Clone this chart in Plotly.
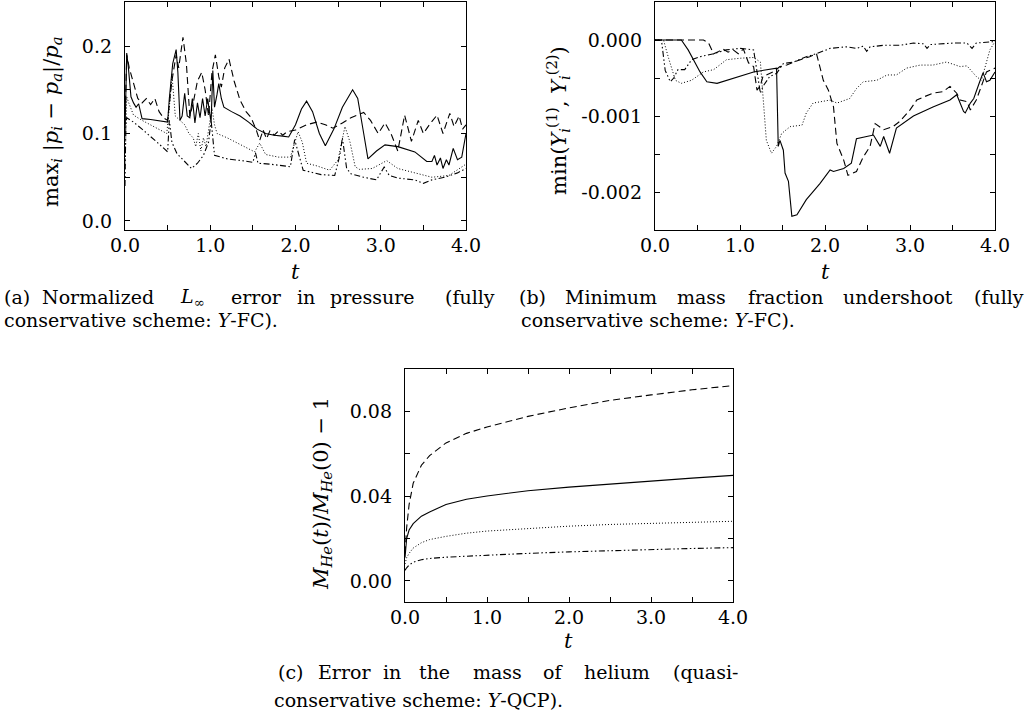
import plotly.graph_objects as go

W, H = 1027, 717

# ---------------- data (a): normalized L_inf pressure error ----------------
a_solid_t = [0.0, 0.01, 0.02, 0.04, 0.07, 0.10, 0.13, 0.16, 0.20, 0.30, 0.40, 0.50, 0.52, 0.56, 0.60, 0.62, 0.645, 0.67, 0.70, 0.73, 0.76, 0.79, 0.82, 0.85, 0.88, 0.91, 0.94, 0.97, 0.99, 1.01, 1.03, 1.05, 1.08, 1.10, 1.13, 1.16, 1.25, 1.35, 1.45, 1.55, 1.65, 1.75, 1.85, 1.92, 2.0, 2.07, 2.13, 2.2, 2.28, 2.35, 2.45, 2.55, 2.67, 2.73, 2.8, 2.85, 2.95, 3.05, 3.2, 3.4, 3.54, 3.6, 3.63, 3.66, 3.7, 3.73, 3.77, 3.8, 3.85, 3.9, 3.95, 4.0]
a_solid_v = [0.10, 0.18, 0.192, 0.175, 0.142, 0.135, 0.13, 0.134, 0.117, 0.116, 0.1145, 0.113, 0.14, 0.18, 0.196, 0.17, 0.115, 0.12, 0.146, 0.12, 0.118, 0.14, 0.112, 0.135, 0.118, 0.14, 0.12, 0.14, 0.125, 0.113, 0.172, 0.13, 0.145, 0.157, 0.14, 0.13, 0.125, 0.12, 0.113, 0.105, 0.1, 0.098, 0.097, 0.096, 0.11, 0.128, 0.137, 0.125, 0.1, 0.086, 0.105, 0.13, 0.15, 0.14, 0.1, 0.071, 0.08, 0.087, 0.085, 0.079, 0.068, 0.068, 0.075, 0.064, 0.072, 0.06, 0.07, 0.064, 0.083, 0.07, 0.073, 0.1]

a_dash_t = [0.0, 0.01, 0.02, 0.05, 0.1, 0.15, 0.2, 0.25, 0.3, 0.35, 0.4, 0.45, 0.5, 0.55, 0.6, 0.63, 0.68, 0.72, 0.76, 0.8, 0.85, 0.9, 0.94, 0.98, 1.02, 1.06, 1.1, 1.13, 1.17, 1.22, 1.28, 1.35, 1.42, 1.48, 1.54, 1.58, 1.62, 1.66, 1.7, 1.75, 1.8, 1.85, 1.9, 2.0, 2.13, 2.25, 2.35, 2.44, 2.55, 2.65, 2.8, 2.88, 2.97, 3.05, 3.12, 3.2, 3.28, 3.36, 3.44, 3.5, 3.57, 3.66, 3.73, 3.81, 3.86, 3.92, 3.96, 4.0]
a_dash_v = [0.11, 0.17, 0.19, 0.175, 0.158, 0.14, 0.135, 0.14, 0.133, 0.14, 0.125, 0.118, 0.115, 0.16, 0.19, 0.175, 0.21, 0.18, 0.12, 0.135, 0.16, 0.17, 0.15, 0.12, 0.17, 0.19, 0.165, 0.153, 0.175, 0.185, 0.16, 0.138, 0.125, 0.118, 0.104, 0.092, 0.104, 0.094, 0.103, 0.098, 0.103, 0.098, 0.102, 0.104, 0.11, 0.113, 0.11, 0.106, 0.112, 0.118, 0.124, 0.115, 0.1, 0.112, 0.1, 0.08, 0.121, 0.091, 0.115, 0.1, 0.11, 0.121, 0.1, 0.123, 0.108, 0.12, 0.105, 0.11]

a_dot_t = [0.0, 0.01, 0.02, 0.04, 0.1, 0.2, 0.3, 0.4, 0.49, 0.52, 0.55, 0.59, 0.65, 0.7, 0.75, 0.8, 0.83, 0.86, 0.89, 0.92, 0.95, 0.98, 1.02, 1.05, 1.08, 1.2, 1.3, 1.4, 1.52, 1.58, 1.65, 1.8, 1.94, 2.03, 2.08, 2.13, 2.25, 2.4, 2.5, 2.58, 2.64, 2.7, 2.75, 2.9, 3.07, 3.2, 3.4, 3.6, 3.8, 3.9, 4.0]
a_dot_v = [0.06, 0.13, 0.142, 0.136, 0.121, 0.115, 0.11, 0.105, 0.1, 0.13, 0.168, 0.12, 0.115, 0.11, 0.1, 0.095, 0.085, 0.1, 0.08, 0.095, 0.085, 0.105, 0.129, 0.11, 0.1, 0.095, 0.09, 0.085, 0.079, 0.089, 0.076, 0.073, 0.073, 0.102, 0.09, 0.066, 0.063, 0.058, 0.07, 0.108, 0.09, 0.062, 0.059, 0.06, 0.069, 0.06, 0.055, 0.05, 0.052, 0.058, 0.065]

a_dd_t = [0.0, 0.01, 0.02, 0.1, 0.2, 0.3, 0.4, 0.5, 0.52, 0.55, 0.61, 0.7, 0.78, 0.85, 0.92, 0.98, 1.01, 1.05, 1.2, 1.4, 1.5, 1.53, 1.56, 1.7, 1.94, 1.99, 2.04, 2.09, 2.3, 2.46, 2.52, 2.55, 2.6, 2.65, 2.8, 2.95, 3.04, 3.1, 3.2, 3.4, 3.5, 3.6, 3.75, 3.9, 4.0]
a_dd_v = [0.04, 0.11, 0.118, 0.113, 0.105, 0.097, 0.088, 0.079, 0.115, 0.09, 0.077, 0.068, 0.06, 0.066, 0.075, 0.09, 0.115, 0.075, 0.071, 0.0686, 0.067, 0.078, 0.066, 0.065, 0.062, 0.093, 0.075, 0.058, 0.053, 0.052, 0.075, 0.095, 0.06, 0.054, 0.05, 0.047, 0.0617, 0.052, 0.049, 0.047, 0.043, 0.047, 0.05, 0.055, 0.06]

# ---------------- data (b): minimum mass fraction undershoot ----------------
b_solid_t = [0, 0.31, 0.39, 0.45, 0.53, 0.61, 0.73, 1.16, 1.43, 1.45, 1.47, 1.51, 1.53, 1.57, 1.61, 1.67, 1.78, 1.94, 2.04, 2.06, 2.1, 2.22, 2.31, 2.37, 2.49, 2.57, 2.65, 2.69, 2.76, 2.84, 3.04, 3.27, 3.47, 3.55, 3.63, 3.65, 3.71, 3.75, 3.82, 3.86, 3.9, 3.94, 4.0]
b_solid_v = [0, 0, -0.00013, -0.00026, -0.00042, -0.00055, -0.00057, -0.00042, -0.00037, -0.0014, -0.00132, -0.00145, -0.00175, -0.00186, -0.00232, -0.0023, -0.0021, -0.00189, -0.00175, -0.00171, -0.00173, -0.00169, -0.00162, -0.0013, -0.00127, -0.00125, -0.0014, -0.00127, -0.00149, -0.00116, -0.001, -0.00088, -0.00079, -0.00072, -0.00094, -0.00096, -0.00083, -0.00077, -0.00055, -0.00043, -0.00055, -0.00053, -0.00042]

b_dash_t = [0, 0.57, 0.63, 0.69, 0.75, 0.8, 0.86, 0.92, 0.98, 1.04, 1.1, 1.16, 1.2, 1.24, 1.27, 1.33, 1.39, 1.47, 1.55, 1.63, 1.72, 1.82, 1.9, 1.98, 2.04, 2.1, 2.14, 2.22, 2.27, 2.37, 2.45, 2.53, 2.59, 2.69, 2.8, 2.88, 3.0, 3.08, 3.16, 3.27, 3.39, 3.47, 3.55, 3.59, 3.67, 3.71, 3.78, 3.84, 3.9, 4.0]
b_dash_v = [0, 0, -0.00004, -0.00018, -0.00015, -0.00012, -0.00016, -0.00013, -0.00018, -0.00012, -0.0003, -0.00035, -0.00066, -0.0006, -0.00048, -0.00045, -0.00042, -0.00035, -0.00033, -0.00029, -0.00026, -0.00022, -0.00018, -0.00053, -0.00066, -0.00088, -0.00136, -0.00158, -0.00178, -0.00173, -0.00154, -0.0014, -0.0011, -0.00118, -0.00114, -0.00107, -0.00092, -0.00079, -0.00075, -0.0007, -0.00068, -0.00061, -0.0007, -0.00079, -0.00081, -0.00092, -0.00079, -0.00061, -0.00042, -0.00037]

b_dot_t = [0, 0.1, 0.16, 0.24, 0.31, 0.43, 0.57, 0.69, 0.76, 0.84, 1.0, 1.16, 1.24, 1.27, 1.31, 1.37, 1.43, 1.49, 1.59, 1.73, 1.78, 1.86, 2.06, 2.14, 2.29, 2.37, 2.45, 2.61, 2.73, 2.84, 2.96, 3.12, 3.27, 3.43, 3.59, 3.67, 3.78, 3.84, 3.94, 4.0]
b_dot_v = [0, 0, -0.00024, -0.00053, -0.00057, -0.00053, -0.00042, -0.00039, -0.00033, -0.00026, -0.00024, -0.00023, -0.00029, -0.00079, -0.00132, -0.00149, -0.0014, -0.00123, -0.00114, -0.00112, -0.00096, -0.00083, -0.00079, -0.00083, -0.00077, -0.00064, -0.00055, -0.00053, -0.00046, -0.00046, -0.00037, -0.00033, -0.00033, -0.00029, -0.00035, -0.00034, -0.00048, -0.00053, -0.00013, -0.00002]

b_dd_t = [0, 0.06, 0.08, 0.12, 0.18, 0.22, 0.27, 0.35, 0.43, 0.53, 0.69, 0.84, 1.0, 1.16, 1.24, 1.27, 1.35, 1.43, 1.51, 1.63, 1.78, 1.9, 2.06, 2.25, 2.37, 2.45, 2.49, 2.53, 2.69, 2.88, 3.04, 3.16, 3.2, 3.24, 3.51, 3.67, 3.73, 3.78, 4.0]
b_dd_v = [0, 0, -0.00004, -0.0004, -0.00055, -0.0005, -0.00039, -0.00039, -0.00026, -0.00022, -0.00018, -0.00013, -0.00011, -0.00013, -0.0007, -0.00061, -0.00048, -0.00044, -0.00031, -0.00029, -0.00022, -0.00018, -0.00011, -0.00009, -0.00011, -0.00008, -0.00015, -0.00009, -0.00007, -0.00007, -0.00004, -0.00005, -0.00011, -0.00006, -0.00004, -0.00004, -0.00011, -0.00004, -0.00002]

# ---------------- data (c): error in mass of helium ----------------
c_t = [0, 0.01, 0.02, 0.05, 0.1, 0.2, 0.3, 0.5, 0.75, 1.0, 1.5, 2.0, 2.5, 3.0, 3.5, 4.0]
c_solid = [0.011, 0.017, 0.020, 0.024, 0.027, 0.0305, 0.0325, 0.036, 0.0385, 0.040, 0.0425, 0.0442, 0.0457, 0.0471, 0.0484, 0.0497]
c_dash = [0.013, 0.020, 0.025, 0.036, 0.046, 0.0545, 0.059, 0.065, 0.0695, 0.0725, 0.0775, 0.0815, 0.085, 0.0876, 0.090, 0.0920]
c_dot = [0.008, 0.010, 0.011, 0.013, 0.0155, 0.018, 0.0195, 0.021, 0.0225, 0.0235, 0.0248, 0.0258, 0.0266, 0.0272, 0.0277, 0.0281]
c_dd = [0.005, 0.0058, 0.0062, 0.0075, 0.0088, 0.0100, 0.0106, 0.0112, 0.0117, 0.0122, 0.0130, 0.0137, 0.0143, 0.0148, 0.0153, 0.0157]

# ---------------- ticks ----------------
x_tickvals = [0, 1, 2, 3, 4]
x_ticktext = ["0.0", "1.0", "2.0", "3.0", "4.0"]
a_tickvals = [0.0, 0.1, 0.2]
a_ticktext = ["0.0", "0.1", "0.2"]
b_tickvals = [0.0, -0.001, -0.002]
b_ticktext = ["0.000", "-0.001", "-0.002"]
c_tickvals = [0.0, 0.04, 0.08]
c_ticktext = ["0.00", "0.04", "0.08"]

# ---------------- styling ----------------
SERIF = "DejaVu Serif"
DASHES = {
    "solid": "solid",
    "dash": "7px,4px",
    "dot": "1px,2px",
    "dd": "6px,2.5px,1.5px,2.5px,1.5px,2.5px",
}
LW = 1.1


def px(x):
    return x / W


def py(y):
    return 1 - y / H


fig = go.Figure()


def add(xs, ys, style, ax):
    fig.add_trace(go.Scatter(
        x=xs, y=ys, mode="lines", xaxis="x" + ax, yaxis="y" + ax,
        line=dict(color="black", width=LW if style != "dot" else 1.0, dash=DASHES[style]),
        showlegend=False, hoverinfo="skip"))


add(a_dd_t, a_dd_v, "dd", "")
add(a_dot_t, a_dot_v, "dot", "")
add(a_dash_t, a_dash_v, "dash", "")
add(a_solid_t, a_solid_v, "solid", "")

add(b_dd_t, b_dd_v, "dd", "2")
add(b_dot_t, b_dot_v, "dot", "2")
add(b_dash_t, b_dash_v, "dash", "2")
add(b_solid_t, b_solid_v, "solid", "2")

add(c_t, c_dd, "dd", "3")
add(c_t, c_dot, "dot", "3")
add(c_t, c_dash, "dash", "3")
add(c_t, c_solid, "solid", "3")


def axis(domain, rng, tickvals, ticktext, minor_dtick, anchor, is_x):
    d = dict(
        domain=domain, range=rng, anchor=anchor,
        showline=True, linecolor="black", linewidth=1.3, mirror="ticks",
        ticks="inside", ticklen=5, tickwidth=1, tickcolor="black",
        tickmode="array", tickvals=tickvals, ticktext=ticktext,
        minor=dict(dtick=minor_dtick, tick0=0, ticks="inside", ticklen=5, tickwidth=1, tickcolor="black"),
        showgrid=False, zeroline=False, automargin=False,
        tickfont=dict(family=SERIF, size=19, color="black"),
        ticklabelstandoff=-2 if is_x else 8,
        fixedrange=True,
    )
    return d


ya_dom = [py(230), py(2)]
yc_dom = [py(602), py(369)]

fig.update_layout(
    template="none",
    width=W, height=H,
    margin=dict(l=0, r=0, t=0, b=0, pad=0),
    paper_bgcolor="white", plot_bgcolor="white",
    xaxis=axis([px(125), px(466)], [0, 4], x_tickvals, x_ticktext, 0.5, "y", True),
    yaxis=axis(ya_dom, [-0.0103, 0.2503], a_tickvals, a_ticktext, 0.05, "x", False),
    xaxis2=axis([px(655), px(995)], [0, 4], x_tickvals, x_ticktext, 0.5, "y2", True),
    yaxis2=axis(ya_dom, [-0.0025, 0.0005], b_tickvals, b_ticktext, 0.0005, "x2", False),
    xaxis3=axis([px(405), px(733)], [0, 4], x_tickvals, x_ticktext, 0.5, "y3", True),
    yaxis3=axis(yc_dom, [-0.0099, 0.0998], c_tickvals, c_ticktext, 0.02, "x3", False),
)

ann = []


def text(x, y, s, size=19, angle=0, xanchor="center"):
    ann.append(dict(x=px(x), y=py(y), xref="paper", yref="paper", text=s,
                    showarrow=False, textangle=angle, xanchor=xanchor, yanchor="middle",
                    font=dict(family=SERIF, size=size, color="black")))


# axis titles
text(295, 272, "<i>t</i>", 21)
text(825, 272, "<i>t</i>", 21)
text(568, 641, "<i>t</i>", 21)
text(52, 122, "max<sub><i>i</i></sub> |<i>p</i><sub><i>i</i></sub> − <i>p</i><sub><i>a</i></sub>|/<i>p</i><sub><i>a</i></sub>", 21, -90)
text(558, 121, "min(<i>Y</i><sub><i>i</i></sub><sup>(1)</sup>, <i>Y</i><sub><i>i</i></sub><sup>(2)</sup>)", 21, -90)
text(322, 494, "<i>M</i><sub><i>He</i></sub>(<i>t</i>)/<i>M</i><sub><i>He</i></sub>(0) − 1", 21, -90)

# caption (a), justified line
for cx, w in [(17, "(a)"), (98, "Normalized"), (192, "<i>L</i><sub>∞</sub>"), (256, "error"),
              (306, "in"), (372, "pressure"), (470, "(fully")]:
    text(cx, 297, w)
text(2, 320, "conservative scheme: <i>Y</i>-FC).", xanchor="left")

# caption (b), justified line
for cx, w in [(532, "(b)"), (611, "Minimum"), (701, "mass"), (785, "fraction"),
              (898, "undershoot"), (999, "(fully")]:
    text(cx, 297, w)
text(519, 320, "conservative scheme: <i>Y</i>-FC).", xanchor="left")

# caption (c), justified line
for cx, w in [(290, "(c)"), (344, "Error"), (392, "in"), (434, "the"), (497, "mass"),
              (553, "of"), (617, "helium"), (705, "(quasi-")]:
    text(cx, 672, w)
text(272, 700, "conservative scheme: <i>Y</i>-QCP).", xanchor="left")

fig.update_layout(annotations=ann)

fig.write_html("out.html", config={"displayModeBar": False},
               post_script="document.body.style.margin='0';")
